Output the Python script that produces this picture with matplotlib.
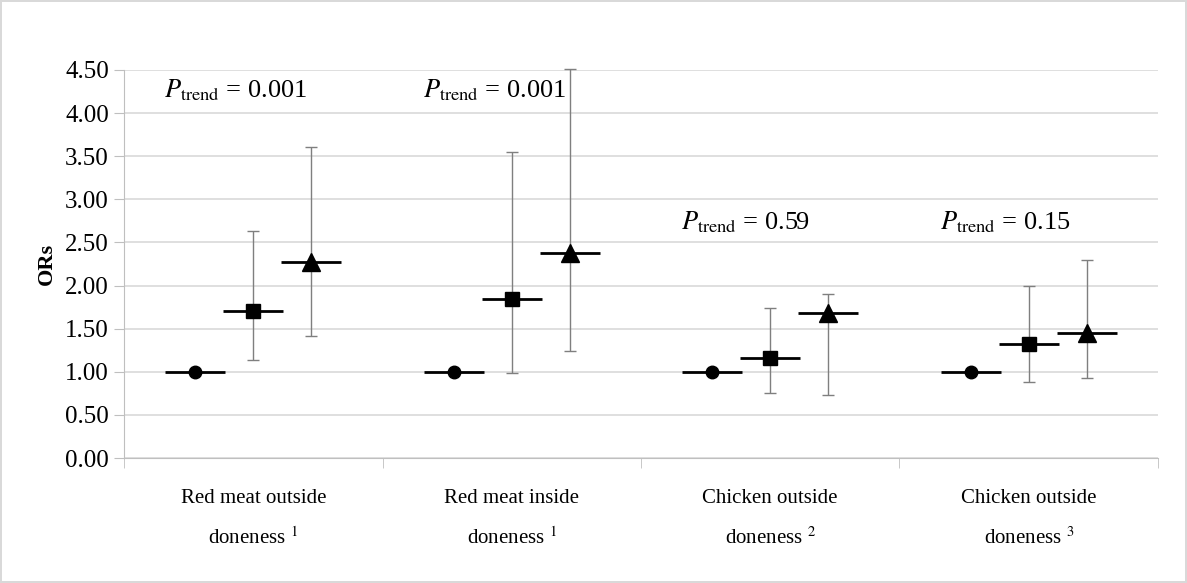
import matplotlib
matplotlib.use("Agg")
import matplotlib.pyplot as plt
import numpy as np

plt.rcParams['font.family'] = ['Liberation Serif', 'DejaVu Serif']
plt.rcParams['mathtext.fontset'] = 'stix'

categories = ["Red meat outside\ndoneness $^{1}$", "Red meat inside\ndoneness $^{1}$",
              "Chicken outside\ndoneness $^{2}$", "Chicken outside\ndoneness $^{3}$"]

# three levels of doneness per category
low_or = [1.00, 1.00, 1.00, 1.00]
mid_or = [1.71, 1.84, 1.16, 1.32]
mid_lo = [1.14, 0.98, 0.75, 0.88]
mid_hi = [2.63, 3.55, 1.74, 2.00]
high_or = [2.27, 2.38, 1.68, 1.45]
high_lo = [1.41, 1.24, 0.73, 0.93]
high_hi = [3.61, 4.51, 1.90, 2.30]

p_labels = ["0.001", "0.001", "0.59", "0.15"]
p_ypos = [4.27, 4.27, 2.73, 2.73]

fig = plt.figure(figsize=(11.87, 5.83), dpi=100)
fig.patch.set_edgecolor('#d9d9d9')
fig.patch.set_linewidth(1.5)
ax = fig.add_axes([0.1045, 0.2144, 0.871, 0.6656])

x = np.arange(len(categories))
off = 0.225

series = [
    (x - off, np.array(low_or), None, None, 'o', 9),
    (x, np.array(mid_or), np.array(mid_lo), np.array(mid_hi), 's', 10.5),
    (x + off, np.array(high_or), np.array(high_lo), np.array(high_hi), '^', 13),
]

for xs, vals, lo, hi, mk, ms in series:
    if lo is not None:
        eb = ax.errorbar(xs, vals, yerr=[vals - lo, hi - vals], fmt='none',
                         ecolor='#7f7f7f', elinewidth=1, capsize=4, capthick=1, zorder=3)
        for art in eb.lines[1] + eb.lines[2]:
            art.set_clip_on(False)
    ax.plot(xs, vals, linestyle='none', marker='_', markersize=43,
            markeredgewidth=2, color='black', zorder=4)
    ax.plot(xs, vals, linestyle='none', marker=mk, markersize=ms,
            color='black', zorder=5)

for i, (lab, yp) in enumerate(zip(p_labels, p_ypos)):
    ax.text(i - 0.345, yp, r"$P_{\mathrm{trend}}$ = " + lab, fontsize=19,
            ha='left', va='center')

ax.set_xlim(-0.5, 3.5)
ax.set_ylim(0, 4.5)
ax.set_yticks(np.arange(0, 4.51, 0.5))
ax.set_yticklabels(["%.2f" % v for v in np.arange(0, 4.51, 0.5)], fontsize=18)
ax.set_xticks(x)
ax.set_xticklabels(categories, fontsize=15, linespacing=2.2)
ax.set_xticks(np.arange(-0.5, 3.6, 1), minor=True)
ax.tick_params(axis='x', which='major', length=0, pad=22)
ax.tick_params(axis='x', which='minor', length=7, color='#bfbfbf')
ax.tick_params(axis='y', length=7, color='#bfbfbf', pad=4)
ax.yaxis.grid(True, color='#d9d9d9', linewidth=1.2)
ax.set_axisbelow(True)
for s in ['top', 'right']:
    ax.spines[s].set_visible(False)
ax.spines['left'].set_color('#bfbfbf')
ax.spines['bottom'].set_color('#bfbfbf')
ax.set_ylabel("ORs", fontsize=16, fontweight='bold', labelpad=6)

fig.savefig("out.png", dpi=100, edgecolor=fig.get_edgecolor())
